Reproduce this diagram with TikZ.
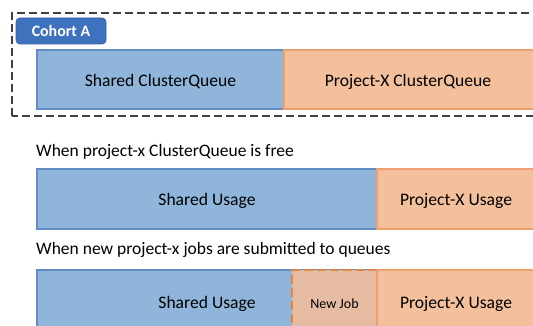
\documentclass[tikz,border=0pt]{standalone}
\usepackage{fontspec}
\setmainfont{Carlito}
\definecolor{cohortblue}{RGB}{62,114,190}
\definecolor{cohortedge}{RGB}{52,96,160}
\definecolor{sharedfill}{RGB}{143,182,218}
\definecolor{sharededge}{RGB}{98,140,196}
\definecolor{projfill}{RGB}{244,192,155}
\definecolor{projedge}{RGB}{236,160,110}
\definecolor{newjobfill}{RGB}{229,188,162}
\definecolor{newjobedge}{RGB}{224,134,70}
\definecolor{cohortline}{RGB}{64,64,64}
\tikzset{
  x=1pt, y=1pt,
  sharedbox/.style={draw=sharededge, line width=1.3pt, fill=sharedfill},
  projbox/.style={draw=projedge, line width=1.3pt, fill=projfill},
  newjobbox/.style={draw=newjobedge, line width=2.2pt, fill=newjobfill, dash pattern=on 9pt off 4pt},
  boxlabel/.style={font=\fontsize{17.6}{20}\selectfont, text=black},
  caption/.style={font=\fontsize{17.5}{20}\selectfont, text=black, anchor=west, inner sep=0pt},
}
\begin{document}
\begin{tikzpicture}
\useasboundingbox (0,0) rectangle (533,326);
\clip (0,0) rectangle (533,326);
\fill[white] (0,0) rectangle (533,326);

% cohort frame
\draw[cohortline, line width=1.3pt, dash pattern=on 8pt off 4pt] (12,210) rectangle (560,313);
\node[draw=cohortedge, fill=cohortblue, rounded corners=4pt, line width=0.8pt,
      minimum width=90pt, minimum height=26pt, inner sep=0pt,
      text=white, font=\fontsize{15.9}{18}\selectfont\bfseries] (cohort) at (61,295) {Cohort A};

% cluster queues in the cohort
\draw[sharedbox] (37,217) rectangle (284,276);
\node[boxlabel] (sharedcq) at (160.5,244.5) {Shared ClusterQueue};
\draw[projbox] (284,217) rectangle (545,276);
\node[boxlabel] (projcq) at (408,244.5) {Project-X ClusterQueue};

% project-x queue idle
\node[caption] (cap1) at (36,174) {When project-x ClusterQueue is free};
\draw[sharedbox] (37,97) rectangle (377,157);
\node[boxlabel] (shared2) at (207,125) {Shared Usage};
\draw[projbox] (377,97) rectangle (545,157);
\node[boxlabel] (proj2) at (456,125) {Project-X Usage};

% new project-x jobs arrive
\node[caption] (cap2) at (36,76) {When new project-x jobs are submitted to queues};
\draw[sharedbox] (37,-10) rectangle (377,56);
\node[boxlabel] (shared3) at (207,22) {Shared Usage};
\draw[newjobbox] (292,-10) rectangle (377,56);
\node[font=\fontsize{14}{16}\selectfont] (newjob) at (334.5,22.5) {New Job};
\draw[projbox] (377,-10) rectangle (545,56);
\node[boxlabel] (proj3) at (456,22) {Project-X Usage};
\end{tikzpicture}
\end{document}
